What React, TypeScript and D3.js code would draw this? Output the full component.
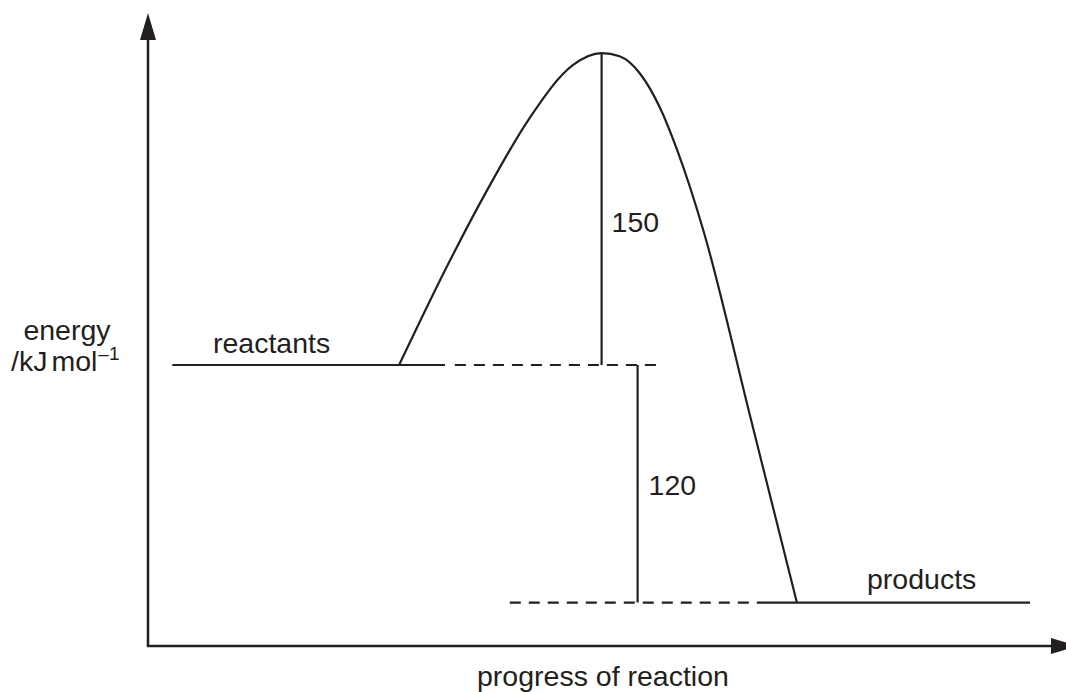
import React from "react";
import * as d3 from "d3";

const W = 1066;
const H = 692;
const INK = "#231f20";
const FONT = "'Liberation Sans', Arial, sans-serif";

// energy profile: progress 0-100, energy in arbitrary units 0-100
const curveProgress = [27.9, 33.2, 37.7, 42.4, 47.2, 50.4, 52.4, 54.7, 56.9, 58.8, 61.7, 66.9, 72.1];
const curveEnergy = [44.6, 60.2, 72.4, 83.8, 92.2, 94.1, 93.6, 90.8, 85.4, 78.7, 66.0, 36.5, 6.9];

const reactantsLevel = 44.6;
const productsLevel = 6.9;
const peakProgress = 50.4;
const peakEnergy = 94.1;
const deltaProgress = 54.4;

const reactantsSolid = [2.7, 33.0];
const reactantsDashed = [34.1, 57.1];
const productsDashed = [40.2, 68.0];
const productsSolid = [68.0, 98.0];

const levelLabels = ["reactants", "products"];
const gapLabels = ["150", "120"];

export default function App() {
  const x = d3.scaleLinear().domain([0, 100]).range([148, 1048]);
  const y = d3.scaleLinear().domain([0, 100]).range([646, 16]);

  const pts: [number, number][] = curveProgress.map((p, i) => [p, curveEnergy[i]]);
  const hump = d3
    .line<[number, number]>()
    .x((d) => x(d[0]))
    .y((d) => y(d[1]))
    .curve(d3.curveMonotoneX)(pts);

  const x0 = x(0);
  const y0 = y(0);

  const hline = (span: number[], level: number, dashed: boolean, key: string) => (
    <line
      key={key}
      x1={x(span[0])}
      x2={x(span[1])}
      y1={y(level)}
      y2={y(level)}
      stroke={INK}
      strokeWidth={2.2}
      strokeDasharray={dashed ? "11 8" : undefined}
    />
  );

  return (
    <svg
      width={W}
      height={H}
      style={{ position: "absolute", left: 0, top: 0, background: "#fff" }}
      fontFamily={FONT}
      fill={INK}
    >
      {/* axes */}
      <line x1={x0} x2={x0} y1={y0} y2={40} stroke={INK} strokeWidth={2.5} />
      <path d={`M${x0},13 L${x0 + 8},40 L${x0 - 8},40 Z`} fill={INK} />
      <line x1={x0 - 1.2} x2={1051} y1={y0} y2={y0} stroke={INK} strokeWidth={2.5} />
      <path d={`M1078,${y0} L1051,${y0 - 8} L1051,${y0 + 8} Z`} fill={INK} />

      {/* levels */}
      {hline(reactantsSolid, reactantsLevel, false, "rs")}
      {hline(reactantsDashed, reactantsLevel, true, "rd")}
      {hline(productsDashed, productsLevel, true, "pd")}
      {hline(productsSolid, productsLevel, false, "ps")}

      {/* hump */}
      <path d={hump || ""} fill="none" stroke={INK} strokeWidth={2.2} />

      {/* energy gaps */}
      <line
        x1={x(peakProgress)}
        x2={x(peakProgress)}
        y1={y(peakEnergy)}
        y2={y(reactantsLevel)}
        stroke={INK}
        strokeWidth={2.2}
      />
      <line
        x1={x(deltaProgress)}
        x2={x(deltaProgress)}
        y1={y(reactantsLevel)}
        y2={y(productsLevel)}
        stroke={INK}
        strokeWidth={2.2}
      />

      {/* labels */}
      <g fontSize={28.5}>
        <text x={x(peakProgress) + 10} y={232}>{gapLabels[0]}</text>
        <text x={x(deltaProgress) + 11} y={495}>{gapLabels[1]}</text>
        <text x={213} y={y(reactantsLevel) - 12}>{levelLabels[0]}</text>
        <text x={867} y={y(productsLevel) - 14}>{levelLabels[1]}</text>
        <text x={67} y={340} textAnchor="middle">energy</text>
        <text x={11} y={371}>
          /kJ<tspan dx={4}>mol</tspan>
          <tspan fontSize={19} dx={1} dy={-11}>–1</tspan>
        </text>
        <text x={477} y={686}>progress of reaction</text>
      </g>
    </svg>
  );
}
